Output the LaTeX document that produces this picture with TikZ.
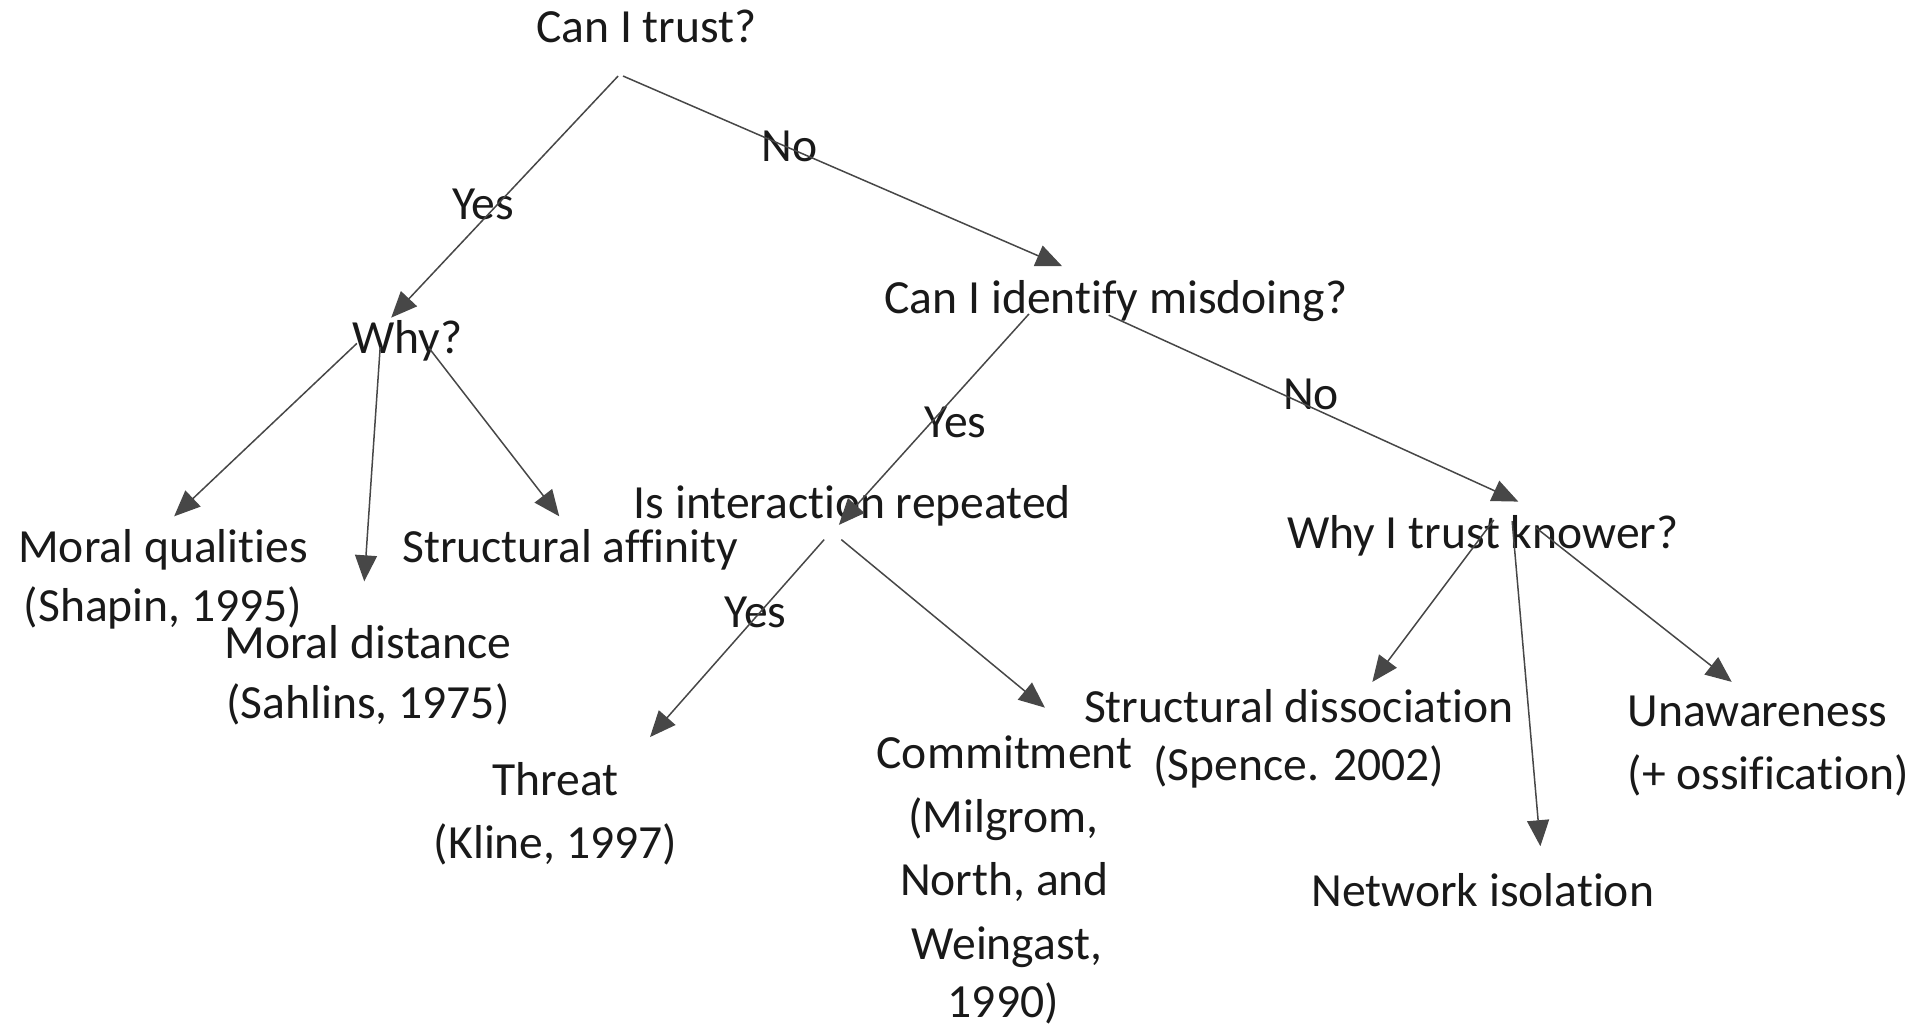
\documentclass[tikz,border=0pt]{standalone}
\usepackage{fontspec}
\setmainfont{Carlito}[Ligatures=NoCommon]
\usetikzlibrary{arrows.meta}
\begin{document}
\begin{tikzpicture}[x=1.2264pt,y=-1.2264pt,
  txt/.style={anchor=base,inner sep=0pt,font=\fontsize{47.6}{57}\selectfont,text=black!90},
  arr/.style={draw=black!72,line width=1.5pt,-{Triangle[length=26pt,width=22pt]}},
  lbl/.style={txt}]
\useasboundingbox (0,0) rectangle (1568,840);
% texts
\node[txt] (trust) at (527,35) {Can I trust?};
\node[lbl] (no1) at (644,132) {No};
\node[lbl] (yes1) at (394,179) {Yes};
\node[txt] (ident) at (910,256) {Can I identify misdoing?};
\node[txt] (why) at (332,288) {Why?};
\node[lbl] (yes2) at (779,357) {Yes};
\node[lbl] (no2) at (1069,334) {No};
\node[txt] (inter) at (695,423) {Is interaction repeated};
\node[txt] (know) at (1209,447) {Why I trust knower?};
\node[txt] (mq) at (133,459) {Moral qualities};
\node[txt] (mq2) at (133,507) {(Shapin, 1995)};
\node[txt] (sa) at (465,459) {Structural affinity};
\node[txt] (md) at (300,537) {Moral distance};
\node[txt] (md2) at (300,586) {(Sahlins, 1975)};
\node[lbl] (yes3) at (616,512) {Yes};
\node[txt] (thr) at (453,649) {Threat};
\node[txt] (thr2) at (453,700) {(Kline, 1997)};
\node[txt] (com) at (819,627) {Commitment};
\node[txt] (com2) at (818,679) {(Milgrom,};
\node[txt] (com3) at (819,730) {North, and};
\node[txt] (com4) at (821,782) {Weingast,};
\node[txt] (com5) at (818,830) {1990)};
\node[txt] (sd) at (1059,589) {Structural dissociation};
\node[txt] (sd2) at (1059,636) {(Spence. 2002)};
\node[txt,anchor=base west] (un) at (1327,592) {Unawareness};
\node[txt,anchor=base west] (un2) at (1327,644) {(+ ossification)};
\node[txt] (ni) at (1209,739) {Network isolation};
% connector ends
\coordinate (t-a) at (504,62);
\coordinate (t-b) at (508,62);
\coordinate (why-in) at (319,259);
\coordinate (id-in) at (866,217);
\coordinate (w-a) at (291,280);
\coordinate (w-b) at (310,283);
\coordinate (w-c) at (350,284);
\coordinate (mq-in) at (142,421);
\coordinate (md-in) at (297,474);
\coordinate (sa-in) at (456,421);
\coordinate (id-a) at (839,256);
\coordinate (id-b) at (904,257);
\coordinate (int-in) at (684,428);
\coordinate (kn-in) at (1238,409);
\coordinate (in-a) at (672,440);
\coordinate (in-b) at (686,440);
\coordinate (thr-in) at (530,601);
\coordinate (com-in) at (852,577);
\coordinate (k-a) at (1218,424);
\coordinate (k-b) at (1233,425);
\coordinate (k-c) at (1252,430);
\coordinate (sd-in) at (1119,556);
\coordinate (ni-in) at (1256,690);
\coordinate (un-in) at (1412,556);
% connectors
\draw[arr] (t-a) -- (why-in);
\draw[arr] (t-b) -- (id-in);
\draw[arr] (w-a) -- (mq-in);
\draw[arr] (w-b) -- (md-in);
\draw[arr] (w-c) -- (sa-in);
\draw[arr] (id-a) -- (int-in);
\draw[arr] (id-b) -- (kn-in);
\draw[arr] (in-a) -- (thr-in);
\draw[arr] (in-b) -- (com-in);
\draw[arr] (k-a) -- (sd-in);
\draw[arr] (k-b) -- (ni-in);
\draw[arr] (k-c) -- (un-in);
\end{tikzpicture}
\end{document}
